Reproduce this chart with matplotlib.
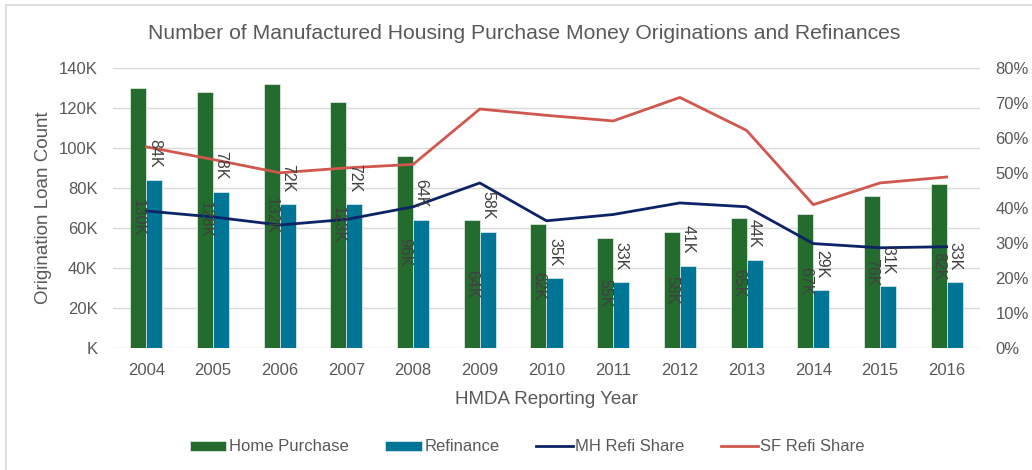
import matplotlib.pyplot as plt
import numpy as np
from matplotlib.lines import Line2D
from matplotlib.ticker import FuncFormatter

plt.rcParams['font.family'] = ['Liberation Sans', 'DejaVu Sans']

years = ['2004', '2005', '2006', '2007', '2008', '2009', '2010',
         '2011', '2012', '2013', '2014', '2015', '2016']
home_purchase = [130, 128, 132, 123, 96, 64, 62, 55, 58, 65, 67, 76, 82]   # thousands
refinance = [84, 78, 72, 72, 64, 58, 35, 33, 41, 44, 29, 31, 33]          # thousands
mh_refi_share = [39.1, 37.4, 35.1, 36.7, 40.3, 47.1, 36.3, 38.1, 41.4, 40.3, 29.8, 28.6, 28.9]
sf_refi_share = [57.4, 53.8, 50.0, 51.4, 52.4, 68.2, 66.4, 64.8, 71.5, 62.1, 40.9, 47.1, 48.8]

GREEN = '#246B2E'
BLUE = '#007596'
NAVY = '#0C2366'
RED = '#D0574D'
GRID = '#D9D9D9'
TXT = '#595959'
LBL = '#404040'

fig = plt.figure(figsize=(10.32, 4.70), dpi=100)
ax = fig.add_axes([0.1095, 0.2596, 0.8401, 0.5964])
ax2 = ax.twinx()

x = np.arange(len(years))
w = 0.24
b1 = ax.bar(x - w / 2, home_purchase, w, color=GREEN, edgecolor='#E8F0E8', linewidth=0.5,
            label='Home Purchase', zorder=2)
b2 = ax.bar(x + w / 2, refinance, w, color=BLUE, edgecolor='#E0EEF2', linewidth=0.5,
            label='Refinance', zorder=2)

ax.set_xlim(-0.5, len(years) - 0.5)
ax.set_ylim(0, 140)
ax.set_yticks(np.arange(0, 141, 20))
ax.yaxis.set_major_formatter(FuncFormatter(lambda v, p: f'{int(v)}K' if v > 0 else 'K'))
ax.set_xticks(x)
ax.set_xticklabels(years)
ax.grid(axis='y', color=GRID, linewidth=1, zorder=0)
ax.set_axisbelow(True)
for s in ax.spines.values():
    s.set_visible(False)
for s in ax2.spines.values():
    s.set_visible(False)
ax.tick_params(axis='both', length=0, labelsize=12, colors=TXT)
ax.tick_params(axis='y', pad=11)
ax.tick_params(axis='x', pad=11)

ax2.plot(x, mh_refi_share, color=NAVY, linewidth=2, label='MH Refi Share', zorder=3)
ax2.plot(x, sf_refi_share, color=RED, linewidth=2, label='SF Refi Share', zorder=3)
ax2.set_ylim(0, 80)
ax2.set_yticks(np.arange(0, 81, 10))
ax2.yaxis.set_major_formatter(FuncFormatter(lambda v, p: f'{int(v)}%'))
ax2.tick_params(axis='y', length=0, labelsize=12, colors=TXT, pad=11)

ax.set_zorder(ax2.get_zorder() - 1)
ax.patch.set_visible(False)

# data labels (drawn on the top axes so they sit above the lines)
for i, v in enumerate(home_purchase):
    ax2.text(x[i] - w / 2, v / 2 * 80 / 140, f'{v}K', rotation=270, ha='center', va='center',
             fontsize=11.5, color=LBL, zorder=4)
for i, v in enumerate(refinance):
    ax2.text(x[i] + w / 2, v * 80 / 140 + 3.4, f'{v}K', rotation=270, ha='center', va='bottom',
             fontsize=11.5, color=LBL, zorder=4)

ax.set_ylabel('Origination Loan Count', fontsize=13.5, color=TXT, labelpad=5)
ax.set_xlabel('HMDA Reporting Year', fontsize=13.5, color=TXT, labelpad=9)
fig.text(0.5083, 0.928, 'Number of Manufactured Housing Purchase Money Originations and Refinances',
         ha='center', va='center', fontsize=15.2, color=TXT)

handles = [b1, b2,
           Line2D([], [], color=NAVY, linewidth=2),
           Line2D([], [], color=RED, linewidth=2)]
labels = ['Home Purchase', 'Refinance', 'MH Refi Share', 'SF Refi Share']
fig.legend(handles, labels, loc='center', bbox_to_anchor=(0.511, 0.049), ncol=4, frameon=False,
           fontsize=12, labelcolor=TXT, handlelength=2.2, handleheight=0.55, handletextpad=0.15,
           columnspacing=2.2)

# chart area border (top and left edges visible)
fig.add_artist(Line2D([6 / 1032, 1], [1 - 5 / 470, 1 - 5 / 470], color=GRID, linewidth=1.2,
                      transform=fig.transFigure))
fig.add_artist(Line2D([6 / 1032, 6 / 1032], [0, 1 - 5 / 470], color=GRID, linewidth=1.2,
                      transform=fig.transFigure))

fig.savefig('out.png', dpi=100)
